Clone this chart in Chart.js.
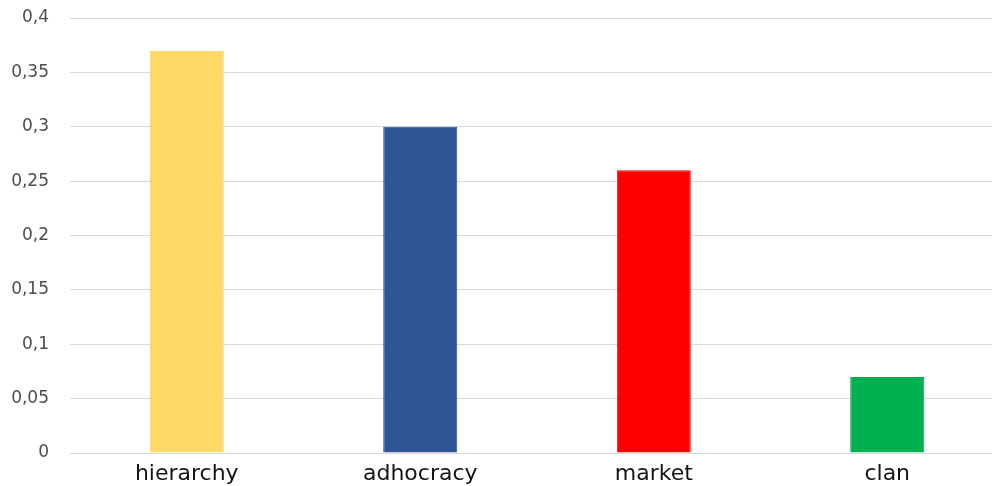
<!DOCTYPE html>
<html>
<head>
<meta charset="utf-8">
<script src="https://cdn.jsdelivr.net/npm/chart.js@4/dist/chart.umd.min.js"></script>
<style>
  html, body { margin: 0; padding: 0; background: #fff; overflow: hidden; }
  #wrap { width: 1004px; height: 486px; position: relative; }
</style>
</head>
<body>
<div id="wrap"><canvas id="c"></canvas></div>
<script>
// Culture type scores
const categories = ['hierarchy', 'adhocracy', 'market', 'clan'];
const scores = [0.37, 0.30, 0.26, 0.07];
const barColors = ['#FFD966', '#2F5597', '#FF0000', '#00B050'];
const barBorders = ['#F5D063', '#264C8C', '#F20000', '#00A84B'];

// y axis: 0 to 0.4 in steps of 0.05, decimal comma
const yMin = 0, yMax = 0.4, yStep = 0.05;
const fmt = v => String(Math.round(v * 100) / 100).replace('.', ',');

new Chart(document.getElementById('c'), {
  type: 'bar',
  data: {
    labels: categories,
    datasets: [{
      data: scores,
      backgroundColor: barColors,
      borderColor: barBorders,
      borderWidth: 1,
      categoryPercentage: 1,
      barPercentage: 0.317
    }]
  },
  options: {
    responsive: true,
    maintainAspectRatio: false,
    animation: false,
    layout: { padding: { top: 18, right: 0, bottom: 0, left: 0 } },
    plugins: { legend: { display: false }, tooltip: { enabled: false } },
    scales: {
      x: {
        grid: { display: false },
        border: { display: false },
        ticks: {
          color: '#151515',
          font: { family: 'DejaVu Sans', size: 22 },
          padding: 0
        },
        afterFit: s => { s.height = 33; }
      },
      y: {
        min: yMin,
        max: yMax,
        // invisible tick marks keep the labels clear of the plot area
        grid: { color: '#D9D9D9', lineWidth: 1, drawTicks: true, tickLength: 21, tickColor: 'rgba(0,0,0,0)' },
        border: { display: false },
        ticks: {
          stepSize: yStep,
          color: '#4D4D4D',
          font: { family: 'DejaVu Sans', size: 17 },
          padding: 0,
          callback: v => fmt(v)
        },
        afterFit: s => { s.width = 70; }
      }
    }
  }
});
</script>
</body>
</html>
